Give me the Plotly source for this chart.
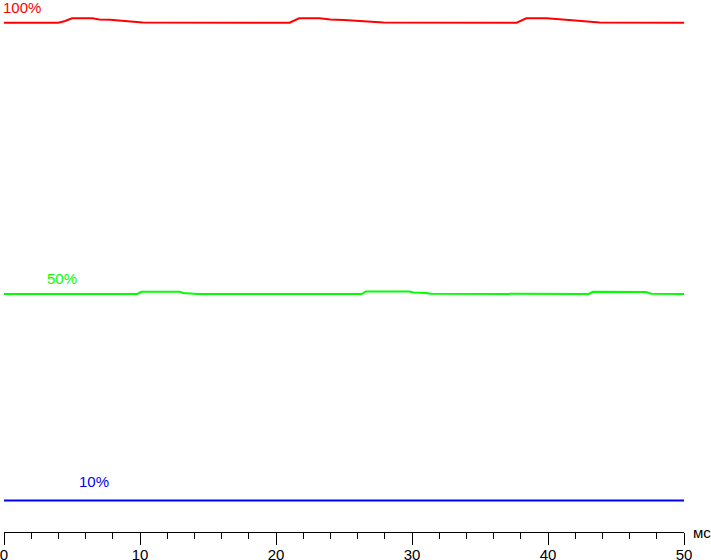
import plotly.graph_objects as go

# time in ms
red_x = [0, 4.0, 4.5, 5.0, 6.5, 7.0, 7.8, 8.5, 10.2, 21.0, 21.3, 21.7, 23.2, 24.0, 25.0, 26.5, 27.9,
         37.7, 38.0, 38.4, 39.9, 40.8, 42.0, 43.8, 50]
red_y = [101.85, 101.85, 102.2, 102.75, 102.75, 102.5, 102.45, 102.25, 101.9, 101.85, 102.2, 102.75,
         102.75, 102.5, 102.4, 102.2, 101.9, 101.85, 102.2, 102.75, 102.75, 102.5, 102.3, 101.9, 101.85]

green_x = [0, 9.8, 10.1, 12.9, 13.2, 13.9, 14.2, 26.3, 26.6, 29.8, 30.1, 31.0, 31.4,
           43.0, 43.3, 47.2, 47.6, 50]
green_y = [47.6, 47.6, 48.05, 48.05, 47.8, 47.75, 47.6, 47.6, 48.1, 48.1, 47.9, 47.8, 47.65,
           47.6, 48.05, 48.0, 47.65, 47.6]

blue_x = [0, 50]
blue_y = [6.3, 6.3]

series_labels = ["100%", "50%", "10%"]
label_x = [1.3, 4.3, 6.6]
label_y = [105.0, 50.8, 10.2]
colors = ["#ff0000", "#00ff00", "#0000ff"]

x_ticks = [0, 10, 20, 30, 40, 50]
x_unit = "мс"

fig = go.Figure()
for xs, ys, c, name in [(red_x, red_y, colors[0], series_labels[0]),
                        (green_x, green_y, colors[1], series_labels[1]),
                        (blue_x, blue_y, colors[2], series_labels[2])]:
    fig.add_trace(go.Scatter(x=xs, y=ys, mode="lines", line=dict(color=c, width=2),
                             name=name, showlegend=False, hoverinfo="skip", cliponaxis=False))

for t, lx, ly, c in zip(series_labels, label_x, label_y, colors):
    fig.add_annotation(x=lx, y=ly, text=t, showarrow=False, xref="x", yref="y",
                       font=dict(color=c, size=15, family="Liberation Sans, Arial"))

fig.add_annotation(x=1.010, y=0, xref="paper", yref="paper", text=x_unit, showarrow=False,
                   xanchor="left", yanchor="middle",
                   font=dict(color="black", size=15, family="Liberation Sans, Arial"))

fig.update_layout(
    width=711, height=560,
    margin=dict(l=4, r=27, t=0, b=28, autoexpand=False),
    paper_bgcolor="white", plot_bgcolor="white",
    xaxis=dict(range=[0, 50], tickvals=x_ticks, ticktext=[str(v) for v in x_ticks],
               showgrid=False, zeroline=False, showline=True, linecolor="black", linewidth=1,
               ticks="outside", ticklen=12, tickcolor="black", tickwidth=1,
               minor=dict(dtick=2, ticks="outside", ticklen=6, tickcolor="black", tickwidth=1),
               tickfont=dict(size=15, color="black", family="Liberation Sans, Arial"),
               ticklabeloverflow="allow", ticklabelstandoff=-3,
               automargin=False),
    yaxis=dict(range=[0, 106.4], visible=False, showgrid=False, zeroline=False),
)

fig.write_html("out.html", config={"displayModeBar": False},
               post_script="document.body.style.margin='0';document.body.style.overflow='hidden';")
